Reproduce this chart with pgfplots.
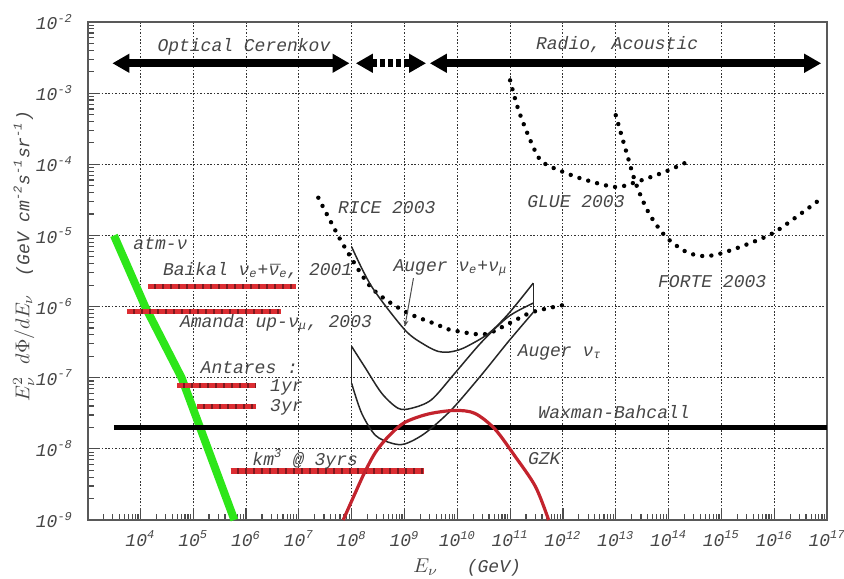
\documentclass[border=0pt]{standalone}
\usepackage{pgfplots}
\pgfplotsset{compat=1.18}
\usepackage{fontspec}
\setmainfont{Liberation Mono}
\usetikzlibrary{arrows.meta}

\definecolor{atmgreen}{RGB}{45,230,25}
\definecolor{gzkred}{RGB}{195,35,45}
\definecolor{barred}{RGB}{220,45,50}
\definecolor{bardark}{RGB}{125,25,30}
\definecolor{txt}{RGB}{70,70,70}

\newcommand{\nub}{\ooalign{ν\cr\raisebox{-0.25ex}{¯}\cr}}
\newcommand{\lab}{\itshape\fontsize{9}{10}\selectfont}

\begin{document}
\begin{tikzpicture}
\useasboundingbox (-44pt,-29pt) rectangle (378pt,260pt);
\begin{axis}[
 at={(0pt,0pt)}, anchor=south west,
 scale only axis, width=369.5pt, height=249pt,
 xmode=log, ymode=log,
 xmin=1.02e3, xmax=1e17, ymin=1e-9, ymax=1e-2,
 xtick={1e4,1e5,1e6,1e7,1e8,1e9,1e10,1e11,1e12,1e13,1e14,1e15,1e16,1e17},
 xticklabels={10\textsuperscript{4},10\textsuperscript{5},10\textsuperscript{6},10\textsuperscript{7},10\textsuperscript{8},10\textsuperscript{9},10\textsuperscript{10},10\textsuperscript{11},10\textsuperscript{12},10\textsuperscript{13},10\textsuperscript{14},10\textsuperscript{15},10\textsuperscript{16},10\textsuperscript{17}},
 ytick={1e-9,1e-8,1e-7,1e-6,1e-5,1e-4,1e-3,1e-2},
 yticklabels={10\textsuperscript{-9},10\textsuperscript{-8},10\textsuperscript{-7},10\textsuperscript{-6},10\textsuperscript{-5},10\textsuperscript{-4},10\textsuperscript{-3},10\textsuperscript{-2}},
 minor xtick={2e3,3e3,4e3,5e3,6e3,7e3,8e3,9e3,
   2e4,3e4,4e4,5e4,6e4,7e4,8e4,9e4,
   2e5,3e5,4e5,5e5,6e5,7e5,8e5,9e5,
   2e6,3e6,4e6,5e6,6e6,7e6,8e6,9e6,
   2e7,3e7,4e7,5e7,6e7,7e7,8e7,9e7,
   2e8,3e8,4e8,5e8,6e8,7e8,8e8,9e8,
   2e9,3e9,4e9,5e9,6e9,7e9,8e9,9e9,
   2e10,3e10,4e10,5e10,6e10,7e10,8e10,9e10,
   2e11,3e11,4e11,5e11,6e11,7e11,8e11,9e11,
   2e12,3e12,4e12,5e12,6e12,7e12,8e12,9e12,
   2e13,3e13,4e13,5e13,6e13,7e13,8e13,9e13,
   2e14,3e14,4e14,5e14,6e14,7e14,8e14,9e14,
   2e15,3e15,4e15,5e15,6e15,7e15,8e15,9e15,
   2e16,3e16,4e16,5e16,6e16,7e16,8e16,9e16},
 minor ytick={2e-9,3e-9,4e-9,5e-9,6e-9,7e-9,8e-9,9e-9,
   2e-8,3e-8,4e-8,5e-8,6e-8,7e-8,8e-8,9e-8,
   2e-7,3e-7,4e-7,5e-7,6e-7,7e-7,8e-7,9e-7,
   2e-6,3e-6,4e-6,5e-6,6e-6,7e-6,8e-6,9e-6,
   2e-5,3e-5,4e-5,5e-5,6e-5,7e-5,8e-5,9e-5,
   2e-4,3e-4,4e-4,5e-4,6e-4,7e-4,8e-4,9e-4,
   2e-3,3e-3,4e-3,5e-3,6e-3,7e-3,8e-3,9e-3},
 xtick pos=bottom, ytick pos=left, tick align=inside,
 major tick length=6pt, minor tick length=3pt,
 every tick/.style={black!70, line width=0.6pt},
 xmajorgrids, ymajorgrids, xminorgrids=false, yminorgrids=false,
 major grid style={black!80, dash pattern=on 0.8pt off 0.9pt, line width=0.5pt},
 axis line style={black!65, line width=0.8pt},
 tick label style={font=\lab, text=txt},
 yticklabel style={xshift=-4pt},
 xticklabel style={yshift=-2pt},
 clip=false,
 dots/.style={black, line width=2.2pt, line cap=round, dash pattern=on 0pt off 4.6pt},
 auger/.style={black!85, line width=0.75pt},
]

% atmospheric neutrinos
\addplot[atmgreen, line width=4pt] coordinates {(3162,1e-5) (12300,1e-6) (60300,1e-7) (1.905e5,1e-8) (6.03e5,1e-9)};

% Waxman-Bahcall
\addplot[black, line width=2.5pt] coordinates {(3162,2e-8) (1e17,2e-8)};

% red experiment bars (base + dashes)
\addplot[bardark, line width=2.6pt] coordinates {(14130,1.9e-6) (8.91e6,1.9e-6)};
\addplot[barred, line width=2.6pt, dash pattern=on 3pt off 1pt] coordinates {(14130,1.9e-6) (8.91e6,1.9e-6)};
\addplot[bardark, line width=2.6pt] coordinates {(5623,8.5e-7) (4.57e6,8.5e-7)};
\addplot[barred, line width=2.6pt, dash pattern=on 3pt off 1pt] coordinates {(5623,8.5e-7) (4.57e6,8.5e-7)};
\addplot[bardark, line width=2.6pt] coordinates {(50100,7.7e-8) (1.58e6,7.7e-8)};
\addplot[barred, line width=2.6pt, dash pattern=on 3pt off 1pt] coordinates {(50100,7.7e-8) (1.58e6,7.7e-8)};
\addplot[bardark, line width=2.6pt] coordinates {(1.2e5,3.9e-8) (1.55e6,3.9e-8)};
\addplot[barred, line width=2.6pt, dash pattern=on 3pt off 1pt] coordinates {(1.2e5,3.9e-8) (1.55e6,3.9e-8)};
\addplot[bardark, line width=2.6pt] coordinates {(5.13e5,4.9e-9) (2.29e9,4.9e-9)};
\addplot[barred, line width=2.6pt, dash pattern=on 3pt off 1pt] coordinates {(5.13e5,4.9e-9) (2.29e9,4.9e-9)};

% RICE 2003
\addplot[dots, smooth] coordinates {(2.34e7,3.39e-5) (3.98e7,1.585e-5) (7.59e7,6.61e-6) (2.40e8,1.82e-6) (1.023e9,8.51e-7) (4.37e9,5.50e-7) (6.76e9,4.79e-7) (3.16e10,4.07e-7) (9.33e10,5.75e-7) (2.57e11,8.32e-7) (1e12,1.047e-6)};

% GLUE 2003
\addplot[dots, smooth] coordinates {(1e11,1.514e-3) (1.445e11,5.75e-4) (2.57e11,1.95e-4) (3.98e11,1.096e-4) (9.55e11,7.94e-5) (2.69e12,6.03e-5) (1e13,4.79e-5) (2.40e13,5.62e-5) (8.91e13,7.94e-5) (2.69e14,1.148e-4)};

% FORTE 2003
\addplot[dots, smooth] coordinates {(1e13,4.90e-4) (1.55e13,1.585e-4) (2.40e13,5.37e-5) (4.27e13,2.04e-5) (8.91e13,9.55e-6) (2.14e14,5.89e-6) (4.47e14,5.13e-6) (9.12e14,5.50e-6) (2.95e15,7.41e-6) (9.33e15,1.07e-5) (2.63e16,1.82e-5) (8.51e16,3.47e-5)};

% Auger nu_e + nu_mu
\addplot[auger, smooth] coordinates {(1e8,6.92e-6) (2.40e8,1.905e-6) (1.023e9,4.68e-7) (2.45e9,2.88e-7) (4.37e9,2.34e-7) (6.76e9,2.29e-7) (1.047e10,2.45e-7) (1.62e10,2.82e-7) (3.89e10,4.17e-7) (9.33e10,7.94e-7) (2.75e11,2.14e-6)};
\addplot[auger] coordinates {(2.75e11,2.14e-6) (2.75e11,8.32e-7)};
% Auger nu_tau (two curves)
\addplot[auger, smooth] coordinates {(1e8,2.75e-7) (1.778e8,1.41e-7) (3.72e8,6.03e-8) (7.59e8,3.72e-8) (1.35e9,3.72e-8) (3.24e9,4.90e-8) (8.91e9,1.148e-7) (2.88e10,3.16e-7) (9.33e10,7.24e-7) (2.75e11,1.12e-6)};
\addplot[auger] coordinates {(1e8,2.75e-7) (1e8,8.32e-8)};
\addplot[auger, smooth] coordinates {(1e8,8.32e-8) (1.55e8,3.16e-8) (2.82e8,1.55e-8) (5.75e8,1.20e-8) (1.023e9,1.175e-8) (2.45e9,1.66e-8) (7.76e9,3.55e-8) (2.88e10,1.10e-7) (9.33e10,3.24e-7) (2.75e11,8.32e-7)};

% GZK
\addplot[gzkred, line width=1.6pt, smooth] coordinates {(6.92e7,1e-9) (1.122e8,2.24e-9) (1.738e8,4.57e-9) (2.82e8,8.91e-9) (4.90e8,1.48e-8) (1e9,2.34e-8) (2.82e9,3.09e-8) (8.91e9,3.47e-8) (2.14e10,3.16e-8) (5.13e10,1.905e-8) (1.23e11,7.94e-9) (3.02e11,2.95e-9) (5.37e11,1e-9)};

% technique arrows
\draw[line width=4pt, {Triangle[length=8.5pt,width=9pt]}-{Triangle[length=8.5pt,width=9pt]}] (axis cs:2951,2.63e-3) -- (axis cs:9.12e7,2.63e-3);
\draw[line width=4pt, dash pattern=on 2.6pt off 1.4pt, {Triangle[length=8.5pt,width=9pt]}-{Triangle[length=8.5pt,width=9pt]}] (axis cs:1.2e8,2.63e-3) -- (axis cs:2.57e9,2.63e-3);
\draw[line width=4pt, {Triangle[length=8.5pt,width=9pt]}-{Triangle[length=8.5pt,width=9pt]}] (axis cs:3.02e9,2.63e-3) -- (axis cs:7.76e16,2.63e-3);

% Auger arrow
\draw[black!70, line width=0.5pt, -{Stealth[length=3pt,width=2.5pt]}] (axis cs:1.48e9,2.51e-6) -- (axis cs:1.02e9,5.25e-7);

% labels
\begin{scope}[every node/.style={font=\lab, text=txt, inner sep=0pt}]
\node at (rel axis cs:0.211,0.950) {Optical Cerenkov};
\node at (rel axis cs:0.716,0.954) {Radio, Acoustic};
\node[anchor=west] at (rel axis cs:0.061,0.556) {atm-ν};
\node[anchor=west] at (rel axis cs:0.101,0.500) {Baikal ν\textsubscript{e}+\nub\textsubscript{e}, 2001};
\node[anchor=west] at (rel axis cs:0.124,0.396) {Amanda up-ν\textsubscript{μ}, 2003};
\node[anchor=west] at (rel axis cs:0.152,0.307) {Antares :};
\node[anchor=west] at (rel axis cs:0.246,0.267) {1yr};
\node[anchor=west] at (rel axis cs:0.246,0.227) {3yr};
\node[anchor=west] at (rel axis cs:0.222,0.122) {km\textsuperscript{3} @ 3yrs};
\node[anchor=west] at (rel axis cs:0.338,0.627) {RICE 2003};
\node[anchor=west] at (rel axis cs:0.413,0.506) {Auger ν\textsubscript{e}+ν\textsubscript{μ}};
\node[anchor=west] at (rel axis cs:0.581,0.337) {Auger ν\textsubscript{τ}};
\node[anchor=west] at (rel axis cs:0.594,0.639) {GLUE 2003};
\node[anchor=west] at (rel axis cs:0.771,0.478) {FORTE 2003};
\node[anchor=west] at (rel axis cs:0.609,0.217) {Waxman-Bahcall};
\node[anchor=west] at (rel axis cs:0.595,0.124) {GZK};
\node[rotate=90] at (rel axis cs:-0.087,0.53) {{\upshape\fontsize{10}{12}\selectfont $E^2_\nu\ d\Phi/dE_\nu$}\quad(GeV cm\textsuperscript{-2}s\textsuperscript{-1}sr\textsuperscript{-1})};
\node at (rel axis cs:0.513,-0.096) {{\upshape\fontsize{10}{12}\selectfont $E_\nu$}\hspace{1.6em}(GeV)};
\end{scope}
\end{axis}
\end{tikzpicture}
\end{document}
